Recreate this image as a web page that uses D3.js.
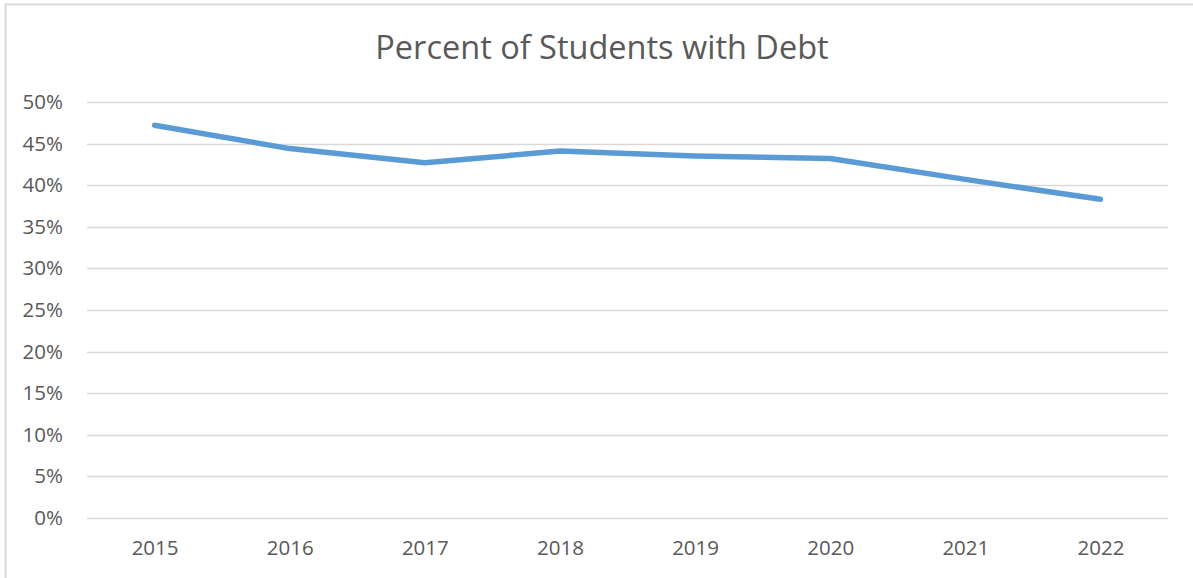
<!DOCTYPE html>
<html>
<head>
<meta charset="utf-8">
<script src="https://cdn.jsdelivr.net/npm/d3@7"></script>
<style>
  body { margin: 0; background: #fff; }
  svg { display: block; font-family: "Open Sans", sans-serif; }
</style>
</head>
<body>
<svg id="chart"></svg>
<script>
// chart data
const years = ['2015', '2016', '2017', '2018', '2019', '2020', '2021', '2022'];
const debtShare = [0.472, 0.444, 0.427, 0.441, 0.435, 0.432, 0.407, 0.383];
const yTicks = [0, 0.05, 0.10, 0.15, 0.20, 0.25, 0.30, 0.35, 0.40, 0.45, 0.50];
const title = 'Percent of Students with Debt';

const width = 1193;
const height = 578;
const margin = { top: 102, right: 25, bottom: 60, left: 87 };

const svg = d3.select('#chart')
  .attr('width', width)
  .attr('height', height);

// outer chart frame (runs off the right/bottom edge like the screenshot)
svg.append('rect')
  .attr('x', 5.5)
  .attr('y', 4.5)
  .attr('width', width + 10)
  .attr('height', height + 10)
  .attr('fill', 'none')
  .attr('stroke', '#d9d9d9')
  .attr('stroke-width', 2);

const x = d3.scalePoint()
  .domain(years)
  .range([margin.left, width - margin.right])
  .padding(0.5);

const y = d3.scaleLinear()
  .domain([0, 0.5])
  .range([height - margin.bottom, margin.top]);

// gridlines
svg.append('g')
  .selectAll('line')
  .data(yTicks)
  .enter()
  .append('line')
  .attr('x1', margin.left)
  .attr('x2', width - margin.right)
  .attr('y1', d => Math.round(y(d)) + 0.5)
  .attr('y2', d => Math.round(y(d)) + 0.5)
  .attr('stroke', '#d9d9d9')
  .attr('stroke-width', 1.5);

// y axis labels
const yAxis = d3.axisLeft(y)
  .tickValues(yTicks)
  .tickFormat(d3.format('.0%'))
  .tickSize(0)
  .tickPadding(24);

svg.append('g')
  .attr('transform', `translate(${margin.left},0)`)
  .call(yAxis)
  .call(g => g.select('.domain').remove())
  .selectAll('text')
  .attr('fill', '#595959')
  .style('font-size', '20.5px')
  .style('font-family', '"Open Sans", sans-serif');

// x axis labels
const xAxis = d3.axisBottom(x)
  .tickSize(0)
  .tickPadding(22);

svg.append('g')
  .attr('transform', `translate(0,${height - margin.bottom})`)
  .call(xAxis)
  .call(g => g.select('.domain').remove())
  .selectAll('text')
  .attr('fill', '#595959')
  .style('font-size', '20.5px')
  .style('font-family', '"Open Sans", sans-serif');

// the line
const line = d3.line()
  .x((d, i) => x(years[i]))
  .y(d => y(d));

svg.append('path')
  .datum(debtShare)
  .attr('d', line)
  .attr('fill', 'none')
  .attr('stroke', '#5b9bd5')
  .attr('stroke-width', 5.5)
  .attr('stroke-linecap', 'round')
  .attr('stroke-linejoin', 'round');

// title
svg.append('text')
  .attr('x', 602)
  .attr('y', 59)
  .attr('text-anchor', 'middle')
  .attr('fill', '#595959')
  .style('font-size', '32.5px')
  .text(title);
</script>
</body>
</html>
